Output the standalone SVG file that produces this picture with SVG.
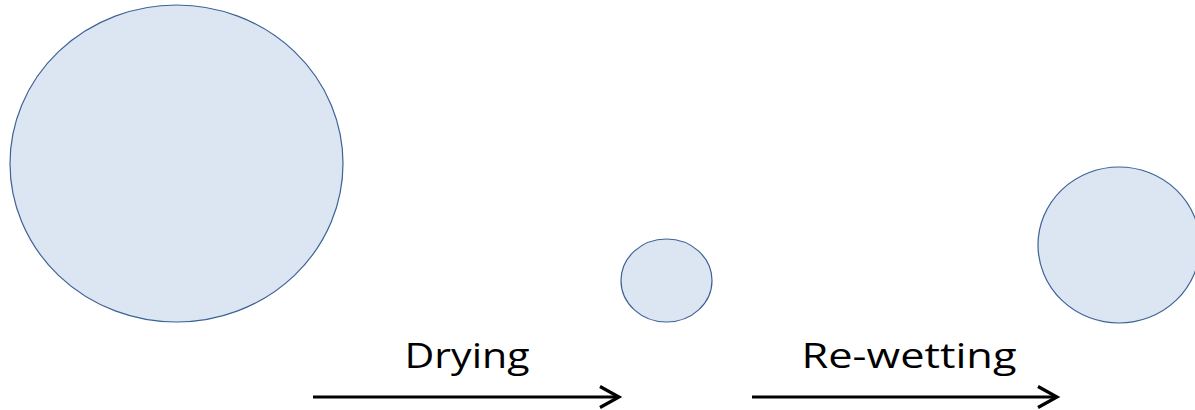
<svg xmlns="http://www.w3.org/2000/svg" width="1195" height="410" viewBox="0 0 1195 410">
  <style>
    .drop { fill: #dce6f2; stroke: #3c6296; stroke-width: 1.2; }
    .arrow { fill: none; stroke: #000; stroke-width: 3.2; }
    .label { font-family: "Open Sans", "Liberation Sans", sans-serif; font-size: 34px; fill: #000; text-anchor: middle; }
  </style>
  <rect width="1195" height="410" fill="#fff"/>
  <g id="drop-initial">
    <ellipse class="drop" cx="176.5" cy="163.5" rx="166.5" ry="158.5"/>
  </g>
  <g id="drop-dried">
    <ellipse class="drop" cx="666.5" cy="280.5" rx="45.5" ry="41.5"/>
  </g>
  <g id="drop-rewetted">
    <ellipse class="drop" cx="1119" cy="245" rx="81" ry="78"/>
  </g>
  <g id="connectors">
    <line class="arrow" x1="313" y1="397" x2="618" y2="397"/>
    <polyline class="arrow" points="600,386.5 619,397 600,407.5"/>
    <line class="arrow" x1="752" y1="397" x2="1056" y2="397"/>
    <polyline class="arrow" points="1038,386.5 1057,397 1038,407.5"/>
  </g>
  <g id="labels">
    <text class="label" x="467" y="368" textLength="125" lengthAdjust="spacingAndGlyphs">Drying</text>
    <text class="label" x="909" y="368" textLength="215" lengthAdjust="spacingAndGlyphs">Re-wetting</text>
  </g>
</svg>
